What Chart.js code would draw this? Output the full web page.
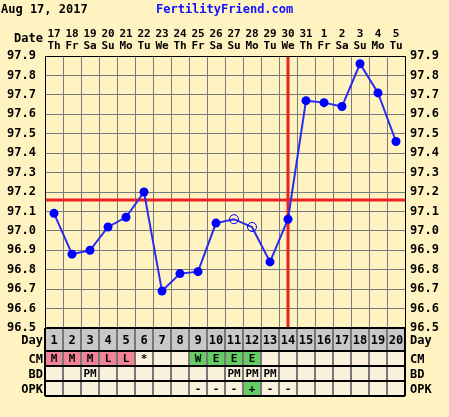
<!DOCTYPE html>
<html><head><meta charset="utf-8">
<script src="https://cdn.jsdelivr.net/npm/chart.js@4/dist/chart.umd.min.js"></script>
<style>html,body{margin:0;padding:0;background:#FFF3C1;}#wrap{width:449px;height:417px;position:relative;}</style>
</head><body><div id="wrap"><canvas id="c" width="449" height="417"></canvas></div>
<script>
const dates = ['17','18','19','20','21','22','23','24','25','26','27','28','29','30','31','1','2','3','4','5'];
const weekdays = ['Th','Fr','Sa','Su','Mo','Tu','We','Th','Fr','Sa','Su','Mo','Tu','We','Th','Fr','Sa','Su','Mo','Tu'];
const cycleDays = ['1','2','3','4','5','6','7','8','9','10','11','12','13','14','15','16','17','18','19','20'];
const temps = [97.09,96.88,96.90,97.02,97.07,97.20,96.69,96.78,96.79,97.04,97.06,97.02,96.84,97.06,97.67,97.66,97.64,97.86,97.71,97.46];
const openPoints = [false,false,false,false,false,false,false,false,false,false,true,true,false,false,false,false,false,false,false,false];
const cm = ['M','M','M','L','L','*','','','W','E','E','E','','','','','','','',''];
const bd = ['','','PM','','','','','','','','PM','PM','PM','','','','','','',''];
const opk = ['','','','','','','','','-','-','-','+','-','-','','','','','',''];
const coverline = 97.16;
const ovulationDay = 14;
const yMin = 96.5, yMax = 97.9;

const FONT = '"DejaVu Sans Mono", monospace';
const cmColor = {M:'#F08496',L:'#F08496',W:'#66CC66',E:'#66CC66'};

const extras = {
  id:'extras',
  beforeDatasetsDraw(chart){
    const {ctx, chartArea:a, scales:{x,y}} = chart;
    ctx.save();
    ctx.strokeStyle = '#EE2222'; ctx.lineWidth = 3;
    const cy = Math.round(y.getPixelForValue(coverline));
    ctx.beginPath(); ctx.moveTo(a.left, cy); ctx.lineTo(a.right, cy); ctx.stroke();
    const vx = Math.round(x.getPixelForValue(ovulationDay-1));
    ctx.beginPath(); ctx.moveTo(vx, a.top); ctx.lineTo(vx, a.bottom); ctx.stroke();
    ctx.restore();
  },
  afterDraw(chart){
    const {ctx, chartArea:a, scales:{x}} = chart;
    ctx.save();
    ctx.strokeStyle = '#000'; ctx.lineWidth = 1;
    ctx.strokeRect(a.left+0.5, a.top+0.5, a.right-a.left, a.bottom-a.top);
    ctx.font = 'bold 12px '+FONT; ctx.textBaseline='middle';
    ctx.fillStyle='#000'; ctx.textAlign='left';
    ctx.fillText('Aug 17, 2017', 1, 10);
    ctx.fillStyle='#1010FF';
    ctx.fillText('FertilityFriend.com', 156, 10);
    ctx.fillStyle='#000'; ctx.textAlign='right';
    ctx.fillText('Date', 43, 39);
    const rows = [
      {label:'Day', top:328, h:23, vals:cycleDays, bg:()=> '#C8C8C8'},
      {label:'CM', top:351, h:15, vals:cm, bg:(v)=> cmColor[v]||'#FAF1DC'},
      {label:'BD', top:366, h:15, vals:bd, bg:()=> '#FAF1DC'},
      {label:'OPK', top:381, h:15, vals:opk, bg:(v)=> v==='+'?'#66CC66':'#FAF1DC'},
    ];
    const colW = (a.right-a.left)/cycleDays.length;
    rows.forEach(r=>{
      r.vals.forEach((v,i)=>{
        const cx = x.getPixelForValue(i);
        ctx.fillStyle = r.bg(v);
        ctx.fillRect(cx-colW/2, r.top, colW, r.h);
      });
    });
    ctx.strokeStyle='#777'; ctx.lineWidth=2;
    for(let i=1;i<cycleDays.length;i++){
      const lx = Math.round(a.left+i*colW);
      ctx.beginPath(); ctx.moveTo(lx, 328); ctx.lineTo(lx, 396); ctx.stroke();
    }
    ctx.strokeStyle='#000'; ctx.lineWidth=2;
    [328,351,366,381,396].forEach(yy=>{
      ctx.beginPath(); ctx.moveTo(a.left, yy); ctx.lineTo(a.right, yy); ctx.stroke();
    });
    ctx.beginPath(); ctx.moveTo(a.left, 328); ctx.lineTo(a.left, 396); ctx.stroke();
    ctx.beginPath(); ctx.moveTo(a.right, 328); ctx.lineTo(a.right, 396); ctx.stroke();
    rows.forEach(r=>{
      ctx.fillStyle='#000';
      ctx.font = 'bold 12px '+FONT;
      ctx.textAlign='right'; ctx.fillText(r.label, 43, r.top + r.h/2+1);
      ctx.textAlign='left'; ctx.fillText(r.label, 410, r.top + r.h/2+1);
      ctx.textAlign='center';
      ctx.font = (r.label==='Day'?'bold 12px ':'bold 11px ')+FONT;
      r.vals.forEach((v,i)=>{
        if(!v) return;
        ctx.fillText(v, x.getPixelForValue(i), r.top + r.h/2+1);
      });
    });
    ctx.restore();
  }
};

new Chart(document.getElementById('c'), {
  type:'line',
  data:{
    labels: dates.map((d,i)=>[d, weekdays[i]]),
    datasets:[{
      data: temps,
      borderColor:'#2B2BF0',
      borderWidth:2,
      tension:0,
      pointRadius:4.5,
      pointHoverRadius:4.5,
      pointBackgroundColor: openPoints.map(o=> o?'rgba(0,0,0,0)':'#0000FF'),
      pointBorderColor:'#0000FF',
      pointBorderWidth: openPoints.map(o=> o?1:0),
    }]
  },
  options:{
    responsive:false, animation:false,
    layout:{padding:{top:0,bottom:89,left:0,right:0}},
    plugins:{legend:{display:false}, tooltip:{enabled:false}},
    scales:{
      x:{
        position:'top', offset:true,
        grid:{offset:true, color:'#7A7A7A', lineWidth:1, drawTicks:false},
        border:{display:false},
        ticks:{font:{family:FONT, size:11, weight:'bold', lineHeight:1.1}, color:'#000', padding:4, maxRotation:0, autoSkip:false},
        afterFit(s){ s.height = 56; }
      },
      y:{
        position:'left', min:yMin, max:yMax,
        grid:{color:'#7A7A7A', lineWidth:1, drawTicks:false},
        border:{display:false},
        ticks:{stepSize:0.1, font:{family:FONT, size:12, weight:'bold'}, color:'#000', padding:9,
          callback:v=> Number(v).toFixed(1)},
        afterFit(s){ s.width = 45; }
      },
      y2:{
        position:'right', min:yMin, max:yMax,
        grid:{display:false, drawTicks:false},
        border:{display:false},
        ticks:{stepSize:0.1, font:{family:FONT, size:12, weight:'bold'}, color:'#000', padding:5,
          callback:v=> Number(v).toFixed(1)},
        afterFit(s){ s.width = 44; }
      }
    }
  },
  plugins:[extras]
});
</script>
</body></html>
